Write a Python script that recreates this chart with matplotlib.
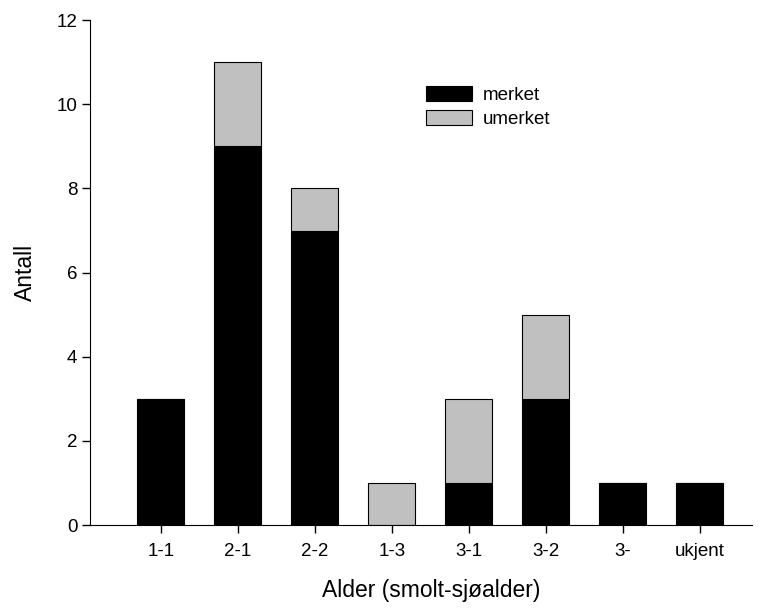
import numpy as np
import matplotlib.pyplot as plt

plt.rcParams['font.family'] = ['Liberation Sans', 'DejaVu Sans']

categories = ["1-1", "2-1", "2-2", "1-3", "3-1", "3-2", "3-", "ukjent"]
merket = [3, 9, 7, 0, 1, 3, 1, 1]
umerket = [0, 2, 1, 1, 2, 2, 0, 0]

fig = plt.figure(figsize=(7.73, 6.12), dpi=100)
ax = fig.add_axes([0.1164, 0.142, 0.973 - 0.1164, 0.967 - 0.142])

x = np.arange(len(categories))
w = 0.61
ax.bar(x, merket, w, color="black", edgecolor="black", linewidth=0.8, label="merket")
ax.bar(x, umerket, w, bottom=merket, color="#c0c0c0", edgecolor="black",
       linewidth=0.8, label="umerket")

ax.set_xlim(-0.92, 7.68)
ax.set_ylim(0, 12)
ax.set_yticks(range(0, 13, 2))
ax.set_xticks(x)
ax.set_xticklabels(categories)
ax.spines["top"].set_visible(False)
ax.spines["right"].set_visible(False)
ax.tick_params(direction="out", length=6, labelsize=13.5, width=1)
ax.tick_params(axis="x", pad=7)
ax.tick_params(axis="y", pad=3)
ax.set_xlabel("Alder (smolt-sjøalder)", fontsize=16.5)
ax.set_ylabel("Antall", fontsize=16.5)
ax.xaxis.set_label_coords((431 - 90) / 662, -(579 - 525) / 505)
ax.yaxis.set_label_coords((37 - 90) / 662, 0.5)

ax.legend(loc="upper left", bbox_to_anchor=(426 / 773, 1 - 86 / 612),
          bbox_transform=fig.transFigure, frameon=False, fontsize=13.5,
          handlelength=2.45, handleheight=0.85, handletextpad=0.6, labelspacing=0.33,
          borderpad=0, borderaxespad=0)

fig.savefig("out.png", dpi=100)
